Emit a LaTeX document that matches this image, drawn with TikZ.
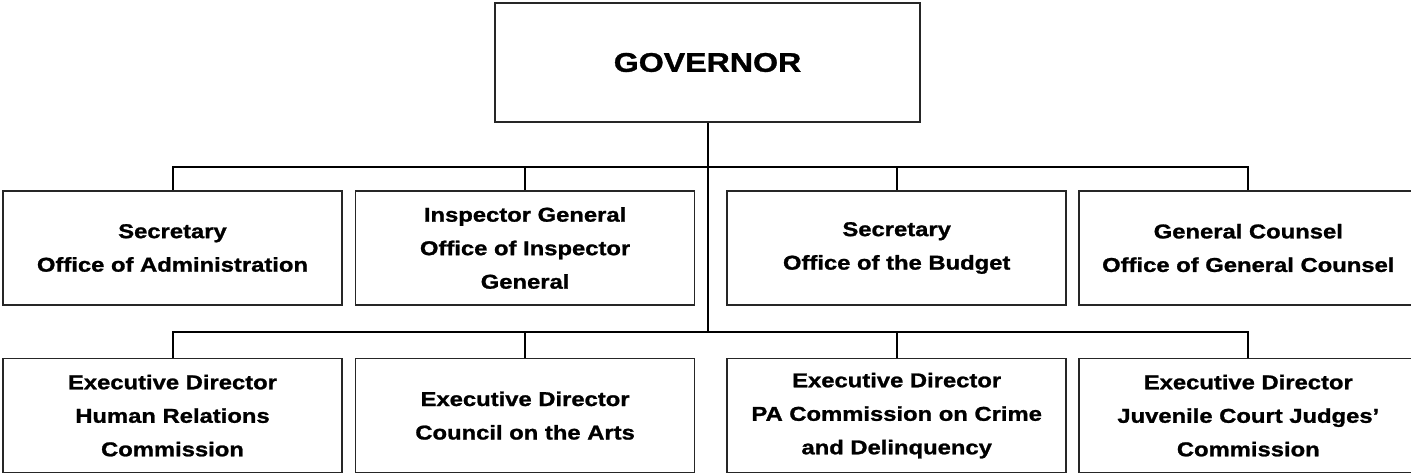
\documentclass[tikz,border=0pt]{standalone}
\usepackage{fontspec}
\setmainfont{Liberation Sans}[FakeStretch=1.19,BoldFeatures={FakeBold=1.2}]
\usetikzlibrary{positioning}

\begin{document}
\begin{tikzpicture}[x=1pt,y=1pt,node distance=12pt,line width=2pt]
  \tikzstyle{office}=[draw=black!85,line width=1.6pt,minimum width=339pt,minimum height=114pt,
                      inner sep=0pt,align=center,font=\fontsize{20}{33.5}\selectfont\bfseries]
  \tikzstyle{chief}=[office,minimum width=425pt,minimum height=119pt,
                     font=\fontsize{27}{30}\selectfont\bfseries]
  \tikzstyle{link}=[draw=black,line width=2pt]

  \useasboundingbox (0,0) rectangle (1411,472);

  \node[chief] (gov) at (707.5,409.5) {GOVERNOR};

  % first row
  \node[office] (sec)   at (172.5,224)         {Secretary\\Office of Administration};
  \node[office] (insp)  [right=12pt of sec]    {Inspector General\\Office of Inspector\\General};
  \node[office] (budg)  [right=31pt of insp]   {Secretary\\Office of the Budget};
  \node[office] (couns) [right=11pt of budg]   {General Counsel\\Office of General Counsel};

  % second row
  \node[office] (hrc)   [below=52pt of sec]    {Executive Director\\Human Relations\\Commission};
  \node[office] (arts)  [below=52pt of insp]   {Executive Director\\Council on the Arts};
  \node[office] (crime) [below=52pt of budg]   {Executive Director\\PA Commission on Crime\\and Delinquency};
  \node[office] (juv)   [below=52pt of couns]  {Executive Director\\Juvenile Court Judges'\\Commission};

  \coordinate (bus1) at (0,305);
  \coordinate (bus2) at (0,140);

  \draw[link] (gov.south) -- (gov.south |- bus2);
  \draw[link] (sec.north) |- (couns.north |- bus1) -- (couns.north);
  \draw[link] (hrc.north) |- (juv.north |- bus2) -- (juv.north);
  \foreach \n in {insp,budg}
    \draw[link] (\n.north) -- (\n.north |- bus1);
  \foreach \n in {arts,crime}
    \draw[link] (\n.north) -- (\n.north |- bus2);
\end{tikzpicture}
\end{document}
